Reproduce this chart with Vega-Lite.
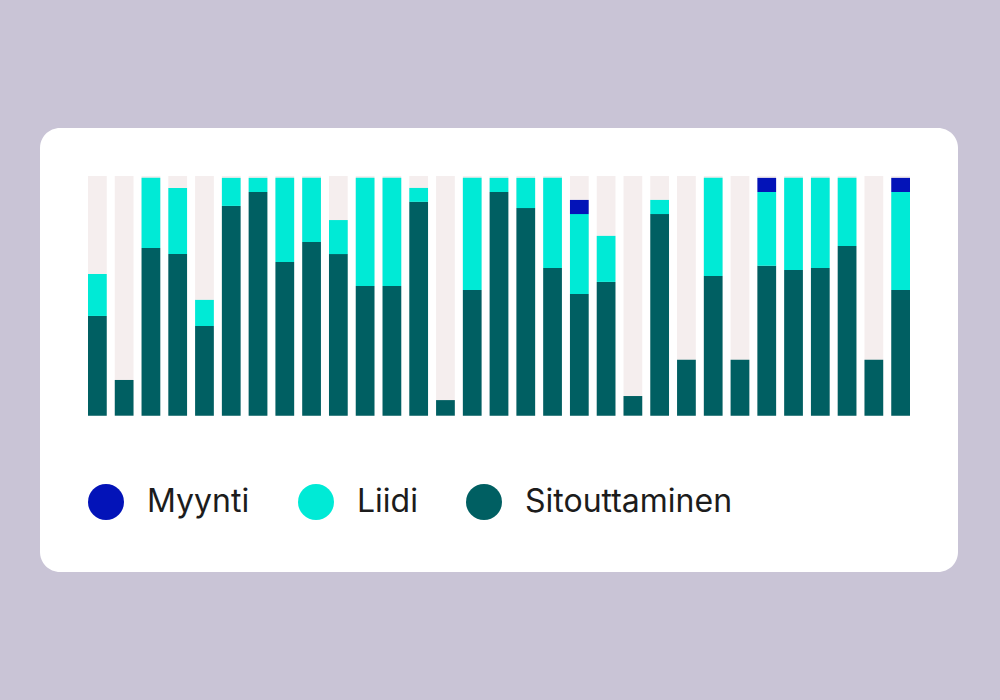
{
  "$schema": "https://vega.github.io/schema/vega-lite/v6.json",
  "width": 1000,
  "height": 700,
  "autosize": {"type": "fit", "contains": "padding"},
  "padding": {"left": 40, "top": 128, "right": 42, "bottom": 128},
  "background": "#c9c4d6",
  "config": {
    "view": {"fill": "#ffffff", "stroke": null, "cornerRadius": 20},
    "font": "Inter",
    "legend": {
      "orient": "none",
      "legendX": 48,
      "legendY": 356,
      "direction": "horizontal",
      "symbolType": "circle",
      "symbolSize": 1296,
      "symbolStrokeWidth": 0,
      "symbolOpacity": 1,
      "labelFont": "Inter",
      "labelFontSize": 32,
      "labelColor": "#1c1c1c",
      "labelOffset": 23,
      "labelLimit": 400,
      "columnPadding": 48,
      "padding": 0,
      "title": null
    }
  },
  "datasets": {
    "bg": [
      {"bar": 1, "full": 100}, {"bar": 2, "full": 100}, {"bar": 3, "full": 100}, {"bar": 4, "full": 100},
      {"bar": 5, "full": 100}, {"bar": 6, "full": 100}, {"bar": 7, "full": 100}, {"bar": 8, "full": 100},
      {"bar": 9, "full": 100}, {"bar": 10, "full": 100}, {"bar": 11, "full": 100}, {"bar": 12, "full": 100},
      {"bar": 13, "full": 100}, {"bar": 14, "full": 100}, {"bar": 15, "full": 100}, {"bar": 16, "full": 100},
      {"bar": 17, "full": 100}, {"bar": 18, "full": 100}, {"bar": 19, "full": 100}, {"bar": 20, "full": 100},
      {"bar": 21, "full": 100}, {"bar": 22, "full": 100}, {"bar": 23, "full": 100}, {"bar": 24, "full": 100},
      {"bar": 25, "full": 100}, {"bar": 26, "full": 100}, {"bar": 27, "full": 100}, {"bar": 28, "full": 100},
      {"bar": 29, "full": 100}, {"bar": 30, "full": 100}, {"bar": 31, "full": 100}
    ],
    "stack": [
      {"bar": 1, "series": "Sitouttaminen", "order": 1, "value": 41.6},
      {"bar": 1, "series": "Liidi", "order": 2, "value": 17.5},
      {"bar": 2, "series": "Sitouttaminen", "order": 1, "value": 14.9},
      {"bar": 3, "series": "Sitouttaminen", "order": 1, "value": 69.9},
      {"bar": 3, "series": "Liidi", "order": 2, "value": 29.3},
      {"bar": 4, "series": "Sitouttaminen", "order": 1, "value": 67.4},
      {"bar": 4, "series": "Liidi", "order": 2, "value": 27.6},
      {"bar": 5, "series": "Sitouttaminen", "order": 1, "value": 37.4},
      {"bar": 5, "series": "Liidi", "order": 2, "value": 10.9},
      {"bar": 6, "series": "Sitouttaminen", "order": 1, "value": 87.5},
      {"bar": 6, "series": "Liidi", "order": 2, "value": 11.7},
      {"bar": 7, "series": "Sitouttaminen", "order": 1, "value": 93.3},
      {"bar": 7, "series": "Liidi", "order": 2, "value": 5.9},
      {"bar": 8, "series": "Sitouttaminen", "order": 1, "value": 64.1},
      {"bar": 8, "series": "Liidi", "order": 2, "value": 35.1},
      {"bar": 9, "series": "Sitouttaminen", "order": 1, "value": 72.5},
      {"bar": 9, "series": "Liidi", "order": 2, "value": 26.7},
      {"bar": 10, "series": "Sitouttaminen", "order": 1, "value": 67.4},
      {"bar": 10, "series": "Liidi", "order": 2, "value": 14.2},
      {"bar": 11, "series": "Sitouttaminen", "order": 1, "value": 54.1},
      {"bar": 11, "series": "Liidi", "order": 2, "value": 45.1},
      {"bar": 12, "series": "Sitouttaminen", "order": 1, "value": 54.1},
      {"bar": 12, "series": "Liidi", "order": 2, "value": 45.1},
      {"bar": 13, "series": "Sitouttaminen", "order": 1, "value": 89.2},
      {"bar": 13, "series": "Liidi", "order": 2, "value": 5.8},
      {"bar": 14, "series": "Sitouttaminen", "order": 1, "value": 6.5},
      {"bar": 15, "series": "Sitouttaminen", "order": 1, "value": 52.4},
      {"bar": 15, "series": "Liidi", "order": 2, "value": 46.8},
      {"bar": 16, "series": "Sitouttaminen", "order": 1, "value": 93.3},
      {"bar": 16, "series": "Liidi", "order": 2, "value": 5.9},
      {"bar": 17, "series": "Sitouttaminen", "order": 1, "value": 86.6},
      {"bar": 17, "series": "Liidi", "order": 2, "value": 12.6},
      {"bar": 18, "series": "Sitouttaminen", "order": 1, "value": 61.6},
      {"bar": 18, "series": "Liidi", "order": 2, "value": 37.6},
      {"bar": 19, "series": "Sitouttaminen", "order": 1, "value": 50.8},
      {"bar": 19, "series": "Liidi", "order": 2, "value": 33.3},
      {"bar": 19, "series": "Myynti", "order": 3, "value": 5.9},
      {"bar": 20, "series": "Sitouttaminen", "order": 1, "value": 55.8},
      {"bar": 20, "series": "Liidi", "order": 2, "value": 19.2},
      {"bar": 21, "series": "Sitouttaminen", "order": 1, "value": 8.2},
      {"bar": 22, "series": "Sitouttaminen", "order": 1, "value": 84.1},
      {"bar": 22, "series": "Liidi", "order": 2, "value": 5.9},
      {"bar": 23, "series": "Sitouttaminen", "order": 1, "value": 23.3},
      {"bar": 24, "series": "Sitouttaminen", "order": 1, "value": 58.3},
      {"bar": 24, "series": "Liidi", "order": 2, "value": 40.9},
      {"bar": 25, "series": "Sitouttaminen", "order": 1, "value": 23.3},
      {"bar": 26, "series": "Sitouttaminen", "order": 1, "value": 62.5},
      {"bar": 26, "series": "Liidi", "order": 2, "value": 30.8},
      {"bar": 26, "series": "Myynti", "order": 3, "value": 5.9},
      {"bar": 27, "series": "Sitouttaminen", "order": 1, "value": 60.8},
      {"bar": 27, "series": "Liidi", "order": 2, "value": 38.4},
      {"bar": 28, "series": "Sitouttaminen", "order": 1, "value": 61.6},
      {"bar": 28, "series": "Liidi", "order": 2, "value": 37.6},
      {"bar": 29, "series": "Sitouttaminen", "order": 1, "value": 70.8},
      {"bar": 29, "series": "Liidi", "order": 2, "value": 28.4},
      {"bar": 30, "series": "Sitouttaminen", "order": 1, "value": 23.3},
      {"bar": 31, "series": "Sitouttaminen", "order": 1, "value": 52.4},
      {"bar": 31, "series": "Liidi", "order": 2, "value": 40.9},
      {"bar": 31, "series": "Myynti", "order": 3, "value": 5.9}
    ]
  },
  "encoding": {
    "x": {
      "field": "bar",
      "type": "ordinal",
      "axis": null,
      "scale": {"range": [48, 870], "paddingInner": 0.3, "paddingOuter": 0}
    }
  },
  "layer": [
    {
      "data": {"name": "bg"},
      "mark": {"type": "bar", "color": "#f5eeee"},
      "encoding": {
        "y": {
          "field": "full",
          "type": "quantitative",
          "axis": null,
          "scale": {"domain": [-65.2, 120], "nice": false, "zero": false}
        }
      }
    },
    {
      "data": {"name": "stack"},
      "mark": {"type": "bar"},
      "encoding": {
        "y": {
          "field": "value",
          "type": "quantitative",
          "stack": "zero",
          "axis": null,
          "scale": {"domain": [-65.2, 120], "nice": false, "zero": false}
        },
        "order": {"field": "order", "type": "quantitative", "sort": "ascending"},
        "color": {
          "field": "series",
          "type": "nominal",
          "scale": {
            "domain": ["Myynti", "Liidi", "Sitouttaminen"],
            "range": ["#0313b8", "#00ead6", "#005f62"]
          }
        }
      }
    }
  ]
}
